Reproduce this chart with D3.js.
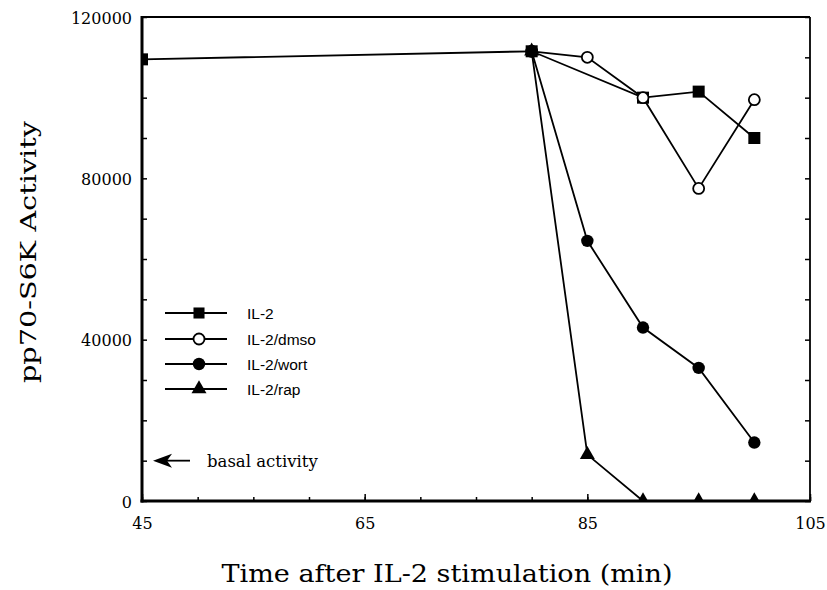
<!DOCTYPE html>
<html><head><meta charset="utf-8">
<script src="https://cdn.jsdelivr.net/npm/d3@7"></script>
<style>body{margin:0;background:#fff}svg{display:block}</style>
</head><body>
<svg id="c" width="827" height="590"></svg>
<script>
// ---- data ----
const xMajorTicks = [45, 65, 85, 105];
const xMinorTicks = [45, 50, 55, 60, 65, 70, 75, 80, 85, 90, 95, 100, 105];
const yMajorTicks = [0, 40000, 80000, 120000];
const yMinorTicks = [0, 10000, 20000, 30000, 40000, 50000, 60000, 70000, 80000, 90000, 100000, 110000, 120000];

const il2Time  = [45, 80, 90, 95, 100];
const il2Value = [109500, 111500, 100000, 101500, 90000];
const dmsoTime  = [80, 85, 90, 95, 100];
const dmsoValue = [111500, 110000, 100000, 77500, 99500];
const wortTime  = [80, 85, 90, 95, 100];
const wortValue = [111500, 64500, 43000, 33000, 14500];
const rapTime  = [80, 85, 90, 95, 100];
const rapValue = [111500, 11500, 0, 0, 0];

const seriesNames = ["IL-2", "IL-2/dmso", "IL-2/wort", "IL-2/rap"];
const basalValue = 10000;
const basalLabel = "basal activity";
const xTitle = "Time after IL-2 stimulation (min)";
const yTitle = "pp70-S6K Activity";

// ---- layout ----
const L = 142, R = 810, T = 17, B = 501;
const x = d3.scaleLinear().domain([45, 105]).range([L, R]);
const y = d3.scaleLinear().domain([0, 120000]).range([B, T]);

const svg = d3.select("#c");
const serif = "'DejaVu Serif', serif";
const sans = "'Liberation Sans', Arial, sans-serif";

svg.append("defs").append("clipPath").attr("id", "plot")
  .append("rect").attr("x", L).attr("y", T).attr("width", R - L).attr("height", B - T);

const series = [
  {name: seriesNames[0], t: il2Time, v: il2Value, shape: "square"},
  {name: seriesNames[1], t: dmsoTime, v: dmsoValue, shape: "open"},
  {name: seriesNames[2], t: wortTime, v: wortValue, shape: "dot"},
  {name: seriesNames[3], t: rapTime, v: rapValue, shape: "tri"}
];

const g = svg.append("g").attr("clip-path", "url(#plot)");
const line = d3.line().x(d => x(d[0])).y(d => y(d[1]));

series.forEach(s => {
  const pts = s.t.map((t, i) => [t, s.v[i]]);
  g.append("path").attr("d", line(pts)).attr("fill", "none")
    .attr("stroke", "#000").attr("stroke-width", 1.8);
});

function marker(sel, shape, cx, cy, k) {
  k = k || 1;
  if (shape === "square") {
    const s = 12 * k;
    sel.append("rect").attr("x", cx - s / 2).attr("y", cy - s / 2).attr("width", s).attr("height", s).attr("fill", "#000");
  } else if (shape === "open") {
    sel.append("circle").attr("cx", cx).attr("cy", cy).attr("r", 5.5 * k).attr("fill", "#fff").attr("stroke", "#000").attr("stroke-width", 1.8);
  } else if (shape === "dot") {
    sel.append("circle").attr("cx", cx).attr("cy", cy).attr("r", 6.2 * k).attr("fill", "#000");
  } else {
    const w = 15 * k, h = 13 * k;
    sel.append("path").attr("d", `M${cx},${cy - h * 2 / 3}L${cx + w / 2},${cy + h / 3}L${cx - w / 2},${cy + h / 3}Z`).attr("fill", "#000");
  }
}

series.forEach(s => {
  s.t.forEach((t, i) => marker(g, s.shape, x(t), y(s.v[i])));
});

// ---- frame & axes ----
const frame = svg.append("g");
frame.append("line").attr("x1", L).attr("x2", R).attr("y1", T).attr("y2", T).attr("stroke", "#000").attr("stroke-width", 1.8);
frame.append("line").attr("x1", R).attr("x2", R).attr("y1", T).attr("y2", B).attr("stroke", "#000").attr("stroke-width", 1.8);

// bottom minor ticks
svg.append("g").attr("transform", `translate(0,${B})`)
  .call(d3.axisBottom(x).tickValues(xMinorTicks).tickSize(-4).tickFormat(""))
  .call(a => a.select(".domain").remove())
  .call(a => a.selectAll("line").attr("stroke-width", 1.5));
// bottom major ticks + labels
svg.append("g").attr("transform", `translate(0,${B})`)
  .call(d3.axisBottom(x).tickValues(xMajorTicks).tickSize(-7).tickPadding(17).tickFormat(d3.format("d")))
  .call(a => a.select(".domain").remove())
  .call(a => a.selectAll("line").attr("stroke-width", 1.5))
  .call(a => a.selectAll("text").attr("font-family", serif).attr("font-size", 16).attr("fill", "#000"));

// left ticks
svg.append("g").attr("transform", `translate(${L},0)`)
  .call(d3.axisLeft(y).tickValues(yMinorTicks).tickSize(-5).tickFormat(""))
  .call(a => a.select(".domain").remove())
  .call(a => a.selectAll("line").attr("stroke-width", 1.5));
svg.append("g").attr("transform", `translate(${L},0)`)
  .call(d3.axisLeft(y).tickValues(yMajorTicks).tickSize(0).tickPadding(10).tickFormat(d3.format("d")))
  .call(a => a.select(".domain").remove())
  .call(a => a.selectAll("text").attr("font-family", serif).attr("font-size", 16).attr("fill", "#000").attr("dy", "0.38em"));

// right ticks
svg.append("g").attr("transform", `translate(${R},0)`)
  .call(d3.axisRight(y).tickValues(yMinorTicks).tickSize(-5).tickFormat(""))
  .call(a => a.select(".domain").remove())
  .call(a => a.selectAll("line").attr("stroke-width", 1.5));

frame.raise();
svg.append("line").attr("x1", L).attr("x2", L).attr("y1", T - 1).attr("y2", B + 1.5).attr("stroke", "#000").attr("stroke-width", 3);
svg.append("line").attr("x1", L - 1.5).attr("x2", R + 1).attr("y1", B).attr("y2", B).attr("stroke", "#000").attr("stroke-width", 3);

// ---- legend ----
const leg = svg.append("g");
const legY = [313, 339, 364, 389];
series.forEach((s, i) => {
  const ly = legY[i];
  leg.append("line").attr("x1", 165).attr("x2", 227).attr("y1", ly).attr("y2", ly).attr("stroke", "#000").attr("stroke-width", 1.8);
  marker(leg, s.shape, 199, ly, s.shape === "square" ? 0.92 : 1);
  leg.append("text").attr("x", 247).attr("y", ly + 5.5).attr("font-family", sans).attr("font-size", 15.5).attr("fill", "#000").text(s.name);
});

// ---- basal activity arrow ----
const by = y(basalValue);
svg.append("line").attr("x1", 190).attr("x2", 165).attr("y1", by).attr("y2", by).attr("stroke", "#000").attr("stroke-width", 1.8);
svg.append("path").attr("d", `M153,${by}L172,${by - 7}L167,${by}L172,${by + 7}Z`).attr("fill", "#000");
svg.append("text").attr("x", 207).attr("y", by + 6).attr("font-family", serif).attr("font-size", 16.5).attr("fill", "#000").text(basalLabel);

// ---- titles ----
svg.append("text").attr("x", 447).attr("y", 582).attr("text-anchor", "middle")
  .attr("font-family", serif).attr("font-size", 24).attr("fill", "#000")
  .attr("textLength", 451).attr("lengthAdjust", "spacingAndGlyphs").text(xTitle);
svg.append("text").attr("transform", "translate(36,252) rotate(-90)").attr("text-anchor", "middle")
  .attr("font-family", serif).attr("font-size", 23).attr("fill", "#000")
  .attr("textLength", 262).attr("lengthAdjust", "spacingAndGlyphs").text(yTitle);
</script>
</body></html>
